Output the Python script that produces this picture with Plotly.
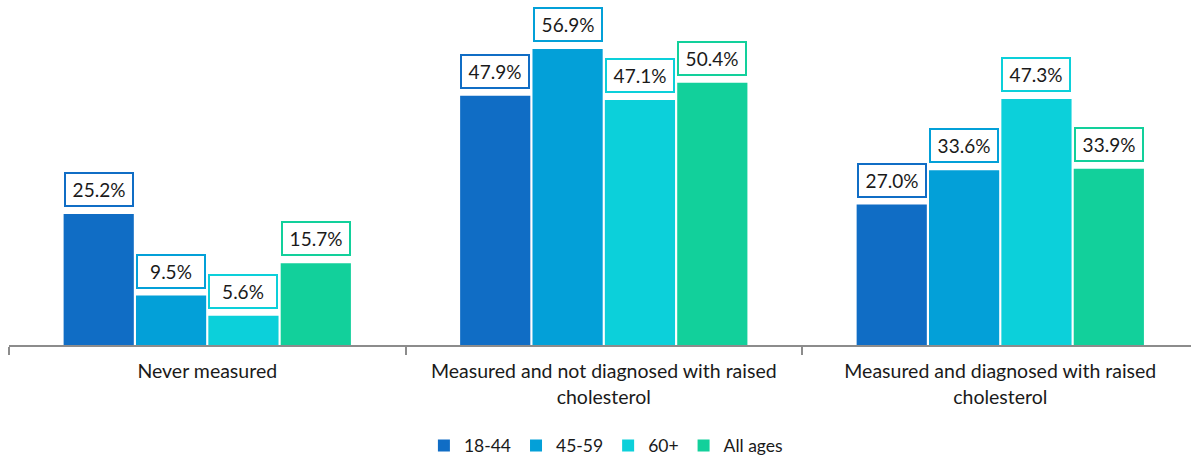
import plotly.graph_objects as go

categories = ["Never measured",
              "Measured and not diagnosed with raised<br>cholesterol",
              "Measured and diagnosed with raised<br>cholesterol"]
series_names = ["18-44", "45-59", "60+", "All ages"]
values_18_44 = [25.2, 47.9, 27.0]
values_45_59 = [9.5, 56.9, 33.6]
values_60p = [5.6, 47.1, 47.3]
values_all = [15.7, 50.4, 33.9]
colors = ["#106DC5", "#03A0D8", "#0CD0DA", "#12D09B"]

series = [values_18_44, values_45_59, values_60p, values_all]
x_idx = list(range(len(categories)))

bargap = 0.27
bargroupgap = 0.03
slot = (1 - bargap) / len(series)

fig = go.Figure()
annotations = []
for k, (name, vals, col) in enumerate(zip(series_names, series, colors)):
    fig.add_trace(go.Bar(x=x_idx, y=vals, name=name, marker_color=col,
                         marker_line_width=0, hoverinfo="skip"))
    off = (k - (len(series) - 1) / 2) * slot
    for i, v in zip(x_idx, vals):
        annotations.append(dict(
            x=i + off, y=v, xref="x", yref="y", text=f"{v:.1f}%",
            showarrow=False, yanchor="bottom", yshift=7,
            bordercolor=col, borderwidth=2, borderpad=2, bgcolor="white",
            width=62, height=27,
            font=dict(family="Lato", size=19, color="#1a1a1a")))

fig.update_layout(
    barmode="group", bargap=bargap, bargroupgap=bargroupgap,
    width=1191, height=458,
    margin=dict(l=9, r=0, t=10, b=113, autoexpand=False),
    plot_bgcolor="white", paper_bgcolor="white",
    font=dict(family="Lato", size=16, color="#1a1a1a"),
    annotations=annotations,
    legend=dict(orientation="h", x=0.505, xanchor="center", y=-0.30, yanchor="middle",
                font=dict(family="Lato", size=17.5, color="#1a1a1a"),
                itemwidth=30, traceorder="normal"),
    xaxis=dict(range=[-0.5, 2.481], tickvals=x_idx, ticktext=categories,
               ticks="", showline=True, linecolor="#8c8c8c", linewidth=1.5,
               showgrid=False, zeroline=False, ticklabelstandoff=8,
               tickfont=dict(family="Lato", size=19.5, color="#1a1a1a"),
               minor=dict(tickvals=[-0.5, 0.5, 1.5, 2.5], ticks="outside",
                          ticklen=8, tickcolor="#8c8c8c", tickwidth=1.5, showgrid=False)),
    yaxis=dict(range=[0, 64.4], visible=False, showgrid=False, zeroline=False),
)
fig.write_html("out.html", post_script="document.body.style.margin='0';",
               config={"displayModeBar": False})
